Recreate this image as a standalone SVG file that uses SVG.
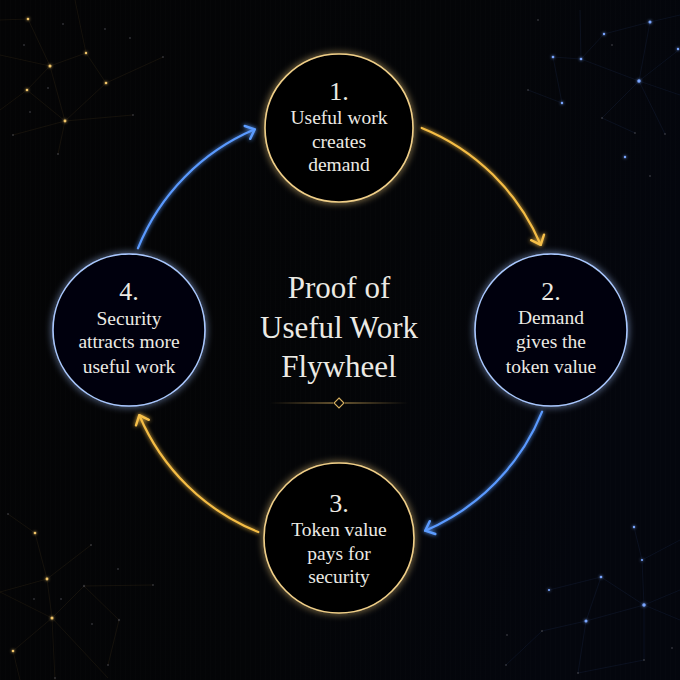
<svg xmlns="http://www.w3.org/2000/svg" width="680" height="680" viewBox="0 0 680 680">
<defs>
<linearGradient id="bg" x1="0" y1="0" x2="1" y2="0.3">
<stop offset="0" stop-color="#040405"/>
<stop offset="0.6" stop-color="#040507"/>
<stop offset="1" stop-color="#04060d"/>
</linearGradient>
<pattern id="grid" width="5" height="5" patternUnits="userSpaceOnUse">
<path d="M0.5,0 V5" stroke="#ffffff" stroke-opacity="0.008" stroke-width="1"/>
</pattern>
<linearGradient id="divider" gradientUnits="userSpaceOnUse" x1="270" y1="0" x2="408" y2="0">
<stop offset="0" stop-color="#c9a050" stop-opacity="0"/>
<stop offset="0.5" stop-color="#d9b060" stop-opacity="0.95"/>
<stop offset="1" stop-color="#c9a050" stop-opacity="0"/>
</linearGradient>
<filter id="glowGold" x="-30%" y="-30%" width="160%" height="160%">
<feGaussianBlur in="SourceGraphic" stdDeviation="3.5" result="b"/>
<feMerge><feMergeNode in="b"/><feMergeNode in="SourceGraphic"/></feMerge>
</filter>
<filter id="glowBlue" x="-30%" y="-30%" width="160%" height="160%">
<feGaussianBlur in="SourceGraphic" stdDeviation="3.5" result="b"/>
<feMerge><feMergeNode in="b"/><feMergeNode in="SourceGraphic"/></feMerge>
</filter>
<filter id="glowLine" x="-20%" y="-20%" width="140%" height="140%">
<feGaussianBlur in="SourceGraphic" stdDeviation="2" result="b"/>
<feMerge><feMergeNode in="b"/><feMergeNode in="SourceGraphic"/></feMerge>
</filter>
<filter id="dotGlow" x="-200%" y="-200%" width="500%" height="500%">
<feGaussianBlur in="SourceGraphic" stdDeviation="1.5" result="b"/>
<feMerge><feMergeNode in="b"/><feMergeNode in="SourceGraphic"/></feMerge>
</filter>
<marker id="arrGold" markerUnits="userSpaceOnUse" markerWidth="24" markerHeight="24" viewBox="-12 -12 24 24" refX="0" refY="0" orient="auto">
<path d="M-8,-7 L0,0 L-8,7" fill="none" stroke="#f7c04a" stroke-width="2.4" stroke-linecap="round" stroke-linejoin="round"/>
</marker>
<marker id="arrBlue" markerUnits="userSpaceOnUse" markerWidth="24" markerHeight="24" viewBox="-12 -12 24 24" refX="0" refY="0" orient="auto">
<path d="M-8,-7 L0,0 L-8,7" fill="none" stroke="#5c9cff" stroke-width="2.4" stroke-linecap="round" stroke-linejoin="round"/>
</marker>
</defs>
<style>
.txt{font-family:"Liberation Serif","DejaVu Serif",serif;fill:#eceae4;text-anchor:middle;}
.num{font-size:26px;}
.lbl{font-size:19.5px;}
.title{font-size:31px;}
.gnode{fill:#050506;stroke:#f0cf88;stroke-width:1.6;filter:url(#glowGold);}
.bnode{fill:#050608;stroke:#a9c7ff;stroke-width:1.6;filter:url(#glowBlue);}
.garc{fill:none;stroke:#f5bd45;stroke-width:2.2;stroke-linecap:round;filter:url(#glowLine);}
.barc{fill:none;stroke:#5a9aff;stroke-width:2.2;stroke-linecap:round;filter:url(#glowLine);}
.gl{stroke:#8a6a30;stroke-opacity:0.18;stroke-width:0.7;}
.bl{stroke:#34508f;stroke-opacity:0.2;stroke-width:0.7;}
.gd{fill:#f2c66a;filter:url(#dotGlow);}
.bd{fill:#7aa6ff;filter:url(#dotGlow);}
.dd{fill:#5a5a60;opacity:0.5;}
</style>
<rect width="680" height="680" fill="url(#bg)"/>
<rect width="680" height="680" fill="url(#grid)"/>

<g id="constellations">
<g id="c-topleft">
<line class="gl" x1="0" y1="20" x2="28" y2="19"/>
<line class="gl" x1="28" y1="19" x2="50" y2="66"/>
<line class="gl" x1="0" y1="55" x2="50" y2="66"/>
<line class="gl" x1="50" y1="66" x2="86" y2="53"/>
<line class="gl" x1="50" y1="66" x2="27" y2="90"/>
<line class="gl" x1="50" y1="66" x2="65" y2="121"/>
<line class="gl" x1="86" y1="53" x2="106" y2="83"/>
<line class="gl" x1="106" y1="83" x2="65" y2="121"/>
<line class="gl" x1="27" y1="90" x2="65" y2="121"/>
<line class="gl" x1="65" y1="121" x2="13" y2="135"/>
<line class="gl" x1="65" y1="121" x2="58" y2="154"/>
<line class="gl" x1="0" y1="110" x2="27" y2="90"/>
<line class="gl" x1="106" y1="83" x2="163" y2="57"/>
<line class="gl" x1="65" y1="121" x2="133" y2="115"/>
<line class="gl" x1="75" y1="0" x2="86" y2="53"/>
<circle class="gd" cx="28" cy="19" r="1.3"/>
<circle class="gd" cx="50" cy="66" r="1.5"/>
<circle class="gd" cx="86" cy="53" r="1.2"/>
<circle class="gd" cx="27" cy="90" r="1.3"/>
<circle class="gd" cx="106" cy="83" r="1.3"/>
<circle class="gd" cx="65" cy="121" r="1.4"/>
<circle class="dd" cx="13" cy="135" r="1.1"/>
<circle class="dd" cx="58" cy="154" r="1.1"/>
<circle class="dd" cx="63" cy="24" r="1"/>
<circle class="dd" cx="105" cy="29" r="1"/>
<circle class="dd" cx="130" cy="38" r="1"/>
<circle class="dd" cx="24" cy="45" r="1"/>
<circle class="dd" cx="163" cy="57" r="1"/>
<circle class="dd" cx="48" cy="88" r="1"/>
<circle class="dd" cx="30" cy="112" r="1"/>
<circle class="dd" cx="133" cy="115" r="1"/>
</g>
<g id="c-topright">
<line class="bl" x1="553" y1="57" x2="581" y2="59"/>
<line class="bl" x1="581" y1="59" x2="604" y2="34"/>
<line class="bl" x1="604" y1="34" x2="650" y2="22"/>
<line class="bl" x1="581" y1="59" x2="639" y2="81"/>
<line class="bl" x1="639" y1="81" x2="650" y2="22"/>
<line class="bl" x1="553" y1="57" x2="562" y2="103"/>
<line class="bl" x1="562" y1="103" x2="528" y2="90"/>
<line class="bl" x1="639" y1="81" x2="680" y2="49"/>
<line class="bl" x1="639" y1="81" x2="602" y2="118"/>
<line class="bl" x1="639" y1="81" x2="665" y2="134"/>
<line class="bl" x1="580" y1="10" x2="581" y2="59"/>
<line class="bl" x1="650" y1="22" x2="680" y2="15"/>
<line class="bl" x1="639" y1="81" x2="680" y2="95"/>
<line class="bl" x1="602" y1="118" x2="635" y2="133"/>
<circle class="bd" cx="650" cy="22" r="1.5"/>
<circle class="bd" cx="604" cy="34" r="1.2"/>
<circle class="bd" cx="553" cy="57" r="1.3"/>
<circle class="bd" cx="581" cy="59" r="1.3"/>
<circle class="bd" cx="639" cy="81" r="1.7"/>
<circle class="bd" cx="562" cy="103" r="1.2"/>
<circle class="bd" cx="625" cy="157" r="1.2"/>
<circle class="bd" cx="678" cy="49" r="1.2"/>
<circle class="dd" cx="538" cy="20" r="1"/>
<circle class="dd" cx="612" cy="45" r="1"/>
<circle class="dd" cx="528" cy="90" r="1"/>
<circle class="dd" cx="602" cy="118" r="1"/>
<circle class="dd" cx="635" cy="133" r="1"/>
<circle class="dd" cx="665" cy="134" r="1"/>
<circle class="dd" cx="650" cy="176" r="1"/>
</g>
<g id="c-bottomleft">
<line class="gl" x1="35" y1="533" x2="47" y2="579"/>
<line class="gl" x1="47" y1="579" x2="91" y2="545"/>
<line class="gl" x1="47" y1="579" x2="52" y2="618"/>
<line class="gl" x1="52" y1="618" x2="13" y2="651"/>
<line class="gl" x1="52" y1="618" x2="84" y2="586"/>
<line class="gl" x1="84" y1="586" x2="119" y2="620"/>
<line class="gl" x1="52" y1="618" x2="108" y2="678"/>
<line class="gl" x1="0" y1="592" x2="47" y2="579"/>
<line class="gl" x1="0" y1="592" x2="52" y2="618"/>
<line class="gl" x1="8" y1="514" x2="35" y2="533"/>
<line class="gl" x1="84" y1="586" x2="153" y2="585"/>
<line class="gl" x1="119" y1="620" x2="108" y2="665"/>
<line class="gl" x1="13" y1="651" x2="20" y2="680"/>
<line class="gl" x1="52" y1="618" x2="55" y2="680"/>
<circle class="gd" cx="35" cy="533" r="1.3"/>
<circle class="gd" cx="47" cy="579" r="1.4"/>
<circle class="gd" cx="52" cy="618" r="1.5"/>
<circle class="gd" cx="13" cy="651" r="1.3"/>
<circle class="dd" cx="91" cy="545" r="1.1"/>
<circle class="dd" cx="84" cy="586" r="1.2"/>
<circle class="dd" cx="119" cy="620" r="1.2"/>
<circle class="dd" cx="108" cy="665" r="1"/>
<circle class="dd" cx="8" cy="514" r="1"/>
<circle class="dd" cx="118" cy="569" r="1"/>
<circle class="dd" cx="61" cy="599" r="1"/>
<circle class="dd" cx="34" cy="599" r="1"/>
<circle class="dd" cx="92" cy="624" r="1"/>
<circle class="dd" cx="153" cy="585" r="1"/>
<circle class="dd" cx="55" cy="678" r="1"/>
</g>
<g id="c-bottomright">
<line class="bl" x1="634" y1="527" x2="642" y2="560"/>
<line class="bl" x1="642" y1="560" x2="644" y2="605"/>
<line class="bl" x1="601" y1="577" x2="644" y2="605"/>
<line class="bl" x1="601" y1="577" x2="586" y2="621"/>
<line class="bl" x1="586" y1="621" x2="644" y2="605"/>
<line class="bl" x1="644" y1="605" x2="680" y2="590"/>
<line class="bl" x1="644" y1="605" x2="680" y2="620"/>
<line class="bl" x1="586" y1="621" x2="542" y2="631"/>
<line class="bl" x1="586" y1="621" x2="578" y2="673"/>
<line class="bl" x1="644" y1="605" x2="644" y2="660"/>
<line class="bl" x1="549" y1="590" x2="601" y2="577"/>
<line class="bl" x1="542" y1="631" x2="506" y2="665"/>
<line class="bl" x1="644" y1="660" x2="578" y2="673"/>
<line class="bl" x1="680" y1="540" x2="642" y2="560"/>
<circle class="bd" cx="634" cy="527" r="1.2"/>
<circle class="bd" cx="642" cy="560" r="1.1"/>
<circle class="bd" cx="601" cy="577" r="1.3"/>
<circle class="bd" cx="644" cy="605" r="1.7"/>
<circle class="bd" cx="586" cy="621" r="1.5"/>
<circle class="bd" cx="549" cy="590" r="1.1"/>
<circle class="dd" cx="542" cy="631" r="1.1"/>
<circle class="dd" cx="644" cy="660" r="1.1"/>
<circle class="dd" cx="578" cy="673" r="1.1"/>
<circle class="dd" cx="507" cy="635" r="1"/>
<circle class="dd" cx="506" cy="665" r="1"/>
<circle class="dd" cx="672" cy="648" r="1"/>
</g>
</g>

<g id="connectors">
<path id="e1-2" class="garc" d="M421.7,127.9 A218,218 0 0 1 540.7,244.8" marker-end="url(#arrGold)"/>
<path id="e2-3" class="barc" d="M542.1,411.7 A218,218 0 0 1 425.2,530.7" marker-end="url(#arrBlue)"/>
<path id="e3-4" class="garc" d="M258.3,532.1 A218,218 0 0 1 139.3,415.2" marker-end="url(#arrGold)"/>
<path id="e4-1" class="barc" d="M137.9,248.3 A218,218 0 0 1 254.8,129.3" marker-end="url(#arrBlue)"/>
</g>

<g id="node1">
<circle class="gnode" cx="339" cy="128" r="74"/>
<text class="txt num" x="339" y="100">1.</text>
<text class="txt lbl" x="339" y="124">Useful work</text>
<text class="txt lbl" x="339" y="148">creates</text>
<text class="txt lbl" x="339" y="171">demand</text>
</g>
<g id="node2">
<circle class="bnode" cx="551" cy="330" r="76"/>
<text class="txt num" x="551" y="300">2.</text>
<text class="txt lbl" x="551" y="324">Demand</text>
<text class="txt lbl" x="551" y="348">gives the</text>
<text class="txt lbl" x="551" y="373">token value</text>
</g>
<g id="node3">
<circle class="gnode" cx="339" cy="538" r="75"/>
<text class="txt num" x="339" y="512">3.</text>
<text class="txt lbl" x="339" y="536">Token value</text>
<text class="txt lbl" x="339" y="560">pays for</text>
<text class="txt lbl" x="339" y="583">security</text>
</g>
<g id="node4">
<circle class="bnode" cx="129" cy="330" r="76"/>
<text class="txt num" x="129" y="300">4.</text>
<text class="txt lbl" x="129" y="325">Security</text>
<text class="txt lbl" x="129" y="348">attracts more</text>
<text class="txt lbl" x="129" y="373">useful work</text>
</g>

<g id="title">
<text class="txt title" x="339" y="298">Proof of</text>
<text class="txt title" x="339" y="338">Useful Work</text>
<text class="txt title" x="339" y="377">Flywheel</text>
<rect x="270" y="402.5" width="63" height="1" fill="url(#divider)"/>
<rect x="345" y="402.5" width="63" height="1" fill="url(#divider)"/>
<path d="M339,398 L344,403 L339,408 L334,403 Z" fill="none" stroke="#d8b060" stroke-width="1.1"/>
</g>
</svg>
